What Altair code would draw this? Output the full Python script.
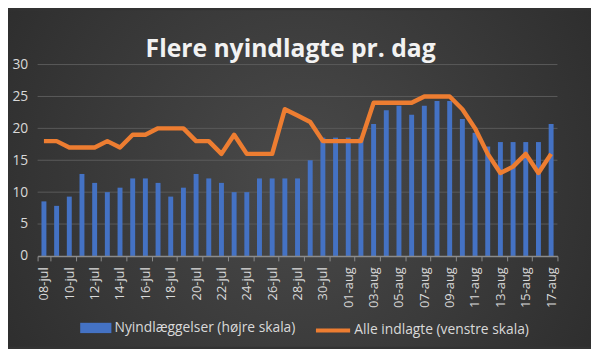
import altair as alt
import pandas as pd

dates = ([f"{d:02d}-jul" for d in range(8, 32)] + [f"{d:02d}-aug" for d in range(1, 18)])

# Nyindlæggelser (right scale, 7-day avg)
new_adm = [1.71, 1.57, 1.86, 2.57, 2.29, 2.00, 2.14, 2.43, 2.43, 2.29,
           1.86, 2.14, 2.57, 2.43, 2.29, 2.00, 2.00, 2.43, 2.43, 2.43,
           2.43, 3.00, 3.71, 3.71, 3.71, 3.71, 4.14, 4.57, 4.71, 4.43,
           4.71, 4.86, 4.86, 4.29, 3.86, 3.43, 3.57, 3.57, 3.57, 3.57,
           4.14]
# Alle indlagte (left scale)
all_adm = [18, 18, 17, 17, 17, 18, 17, 19, 19, 20,
           20, 20, 18, 18, 16, 19, 16, 16, 16, 23,
           22, 21, 18, 18, 18, 18, 24, 24, 24, 24,
           25, 25, 25, 23, 20, 16, 13, 14, 16, 13,
           16]

label_dates = dates[::2]
grid_right = [1, 2, 3, 4, 5, 6]

bar_name = "Nyindlæggelser (højre skala)"
line_name = "Alle indlagte (venstre skala)"

df = pd.DataFrame({"date": dates, "new": new_adm, "all": all_adm,
                   "s1": bar_name, "s2": line_name})
grid_df = pd.DataFrame({"g": grid_right})

W, H = 527, 194
FONT = "Open Sans"
LBL = "#d9d9d9"

xenc = alt.X("date:N", sort=dates, title=None,
             scale=alt.Scale(paddingInner=0, paddingOuter=0),
             axis=alt.Axis(values=label_dates, labelAngle=270, labelColor=LBL,
                           labelFontSize=13, labelFont=FONT, domainColor="#8c8c8c",
                           domainWidth=1.5, tickColor="#8c8c8c", tickSize=5,
                           tickBand="extent", labelPadding=6, labelBaseline="middle",
                           labelAlign="right", zindex=1))

bg = alt.Chart(pd.DataFrame({"a": [0]})).mark_rect(
    fill={"gradient": "radial",
          "stops": [{"offset": 0, "color": "#4a4a4a"},
                    {"offset": 1, "color": "#262626"}],
          "x1": 0.5, "y1": 0.5, "r1": 0, "x2": 0.5, "y2": 0.5, "r2": 0.75}
).encode(x=alt.value(-30), x2=alt.value(W + 34), y=alt.value(-55), y2=alt.value(H + 92))

yright = alt.Scale(domain=[0, 6], nice=False)

grid = alt.Chart(grid_df).mark_rule(color="#5a5a5a", strokeWidth=1).encode(
    y=alt.Y("g:Q", scale=yright, axis=None),
    x=alt.value(0), x2=alt.value(W))

bars = alt.Chart(df).mark_bar(size=5).encode(
    x=xenc,
    y=alt.Y("new:Q", scale=yright, title=None,
            axis=alt.Axis(orient="right", values=[0, 1, 2, 3, 4, 5, 6], grid=False,
                          domain=False, ticks=False, labelColor=LBL, labelFontSize=14,
                          labelFont=FONT, labelPadding=14, zindex=1)),
    color=alt.Color("s1:N", scale=alt.Scale(domain=[bar_name], range=["#4472C4"]),
                    legend=alt.Legend(title=None, orient="none", legendX=42, legendY=250,
                                      symbolType="M-1,-0.33L1,-0.33L1,0.33L-1,0.33Z",
                                      symbolSize=1000, labelColor=LBL, labelFontSize=14,
                                      labelFont=FONT, symbolOpacity=1, labelOffset=2,
                                      labelLimit=400, zindex=1)),
)

inner = alt.layer(grid, bars)

line = alt.Chart(df).mark_line(strokeWidth=4.5, strokeJoin="round").encode(
    x=alt.X("date:N", sort=dates),
    y=alt.Y("all:Q", scale=alt.Scale(domain=[0, 30], nice=False), title=None,
            axis=alt.Axis(orient="left", values=[0, 5, 10, 15, 20, 25, 30], grid=False,
                          domain=False, ticks=False, labelColor=LBL, labelFontSize=14,
                          labelFont=FONT, labelPadding=10, zindex=1)),
    color=alt.Color("s2:N", scale=alt.Scale(domain=[line_name], range=["#ED7D31"]),
                    legend=alt.Legend(title=None, orient="none", legendX=280, legendY=250,
                                      symbolType="stroke", symbolSize=1200,
                                      symbolStrokeWidth=4, labelColor=LBL,
                                      labelFontSize=14, labelFont=FONT, labelOffset=2,
                                      labelLimit=400, zindex=1)),
)

chart = alt.layer(bg, inner, line).resolve_scale(
    y="independent", color="independent"
).properties(
    width=W, height=H,
    padding={"left": 30, "top": 55, "right": 34, "bottom": 92},
    autosize=alt.AutoSizeParams(type="none"),
    background="#333333",
    title=alt.Title("Flere nyindlagte pr. dag", fontSize=25, font=FONT, fontWeight="bold",
                    color="#f2f2f2", anchor="middle", offset=-52, dx=-7, zindex=1),
).configure_view(stroke=None)

chart.save("out.html", embed_options={"renderer": "svg", "actions": False})
